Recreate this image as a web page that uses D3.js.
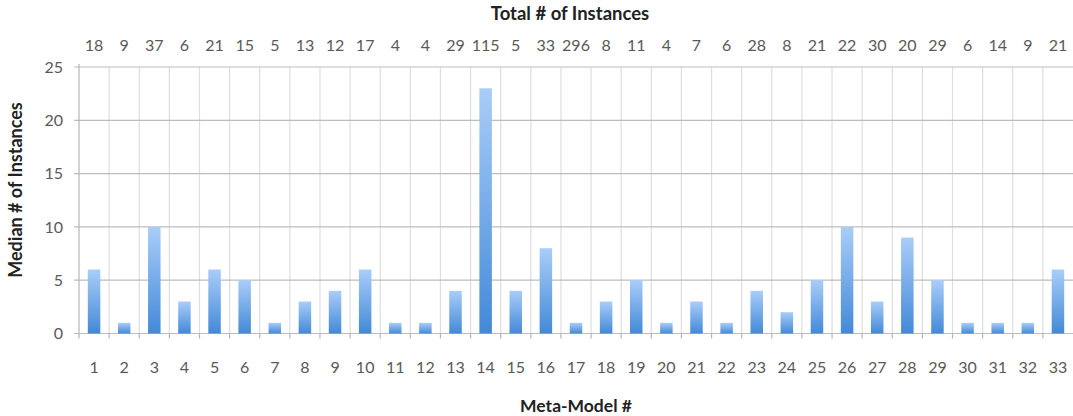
<!DOCTYPE html>
<html>
<head>
<meta charset="utf-8">
<script src="https://cdn.jsdelivr.net/npm/d3@7"></script>
<style>
  html, body { margin: 0; padding: 0; background: #fff; }
  svg { display: block; font-family: Lato, "Open Sans", sans-serif; }
</style>
</head>
<body>
<svg id="chart" width="1073" height="416"></svg>
<script>
// Meta-model ids along the bottom axis
const models = d3.range(1, 34).map(String);
// Median number of instances per meta-model
const medians = [6, 1, 10, 3, 6, 5, 1, 3, 4, 6, 1, 1, 4, 23, 4, 8, 1, 3, 5, 1,
                 3, 1, 4, 2, 5, 10, 3, 9, 5, 1, 1, 1, 6];
// Total number of instances per meta-model (shown along the top)
const totals = [18, 9, 37, 6, 21, 15, 5, 13, 12, 17, 4, 4, 29, 115, 5, 33, 296, 8, 11, 4,
                7, 6, 28, 8, 21, 22, 30, 20, 29, 6, 14, 9, 21];
const yTicks = [0, 5, 10, 15, 20, 25];

const svg = d3.select("#chart");
const plotLeft = 79, plotRight = 1073, plotTop = 67, plotBottom = 333.5;

const x = d3.scaleBand().domain(models).range([plotLeft, plotRight]).paddingInner(0).paddingOuter(0);
const y = d3.scaleLinear().domain([0, 25]).range([plotBottom, plotTop]);

// bar gradient: light at the top, deeper blue at the base
const defs = svg.append("defs");
const grad = defs.append("linearGradient").attr("id", "barFill")
  .attr("x1", 0).attr("y1", 0).attr("x2", 0).attr("y2", 1);
grad.append("stop").attr("offset", "0%").attr("stop-color", "#a9cdf9");
grad.append("stop").attr("offset", "100%").attr("stop-color", "#4389d8");

// vertical gridlines at category boundaries
svg.append("g").selectAll("line").data(models.slice(1)).join("line")
  .attr("x1", d => x(d)).attr("x2", d => x(d))
  .attr("y1", plotTop).attr("y2", plotBottom)
  .attr("stroke", "#dedede").attr("stroke-width", 1.2);

// horizontal gridlines
svg.append("g").selectAll("line").data(yTicks).join("line")
  .attr("x1", plotLeft - 5).attr("x2", plotRight)
  .attr("y1", d => y(d)).attr("y2", d => y(d))
  .attr("stroke", "#bdbdbd").attr("stroke-width", 1.2);

// left axis line
svg.append("line").attr("x1", plotLeft).attr("x2", plotLeft).attr("y1", plotTop - 3).attr("y2", plotBottom + 5)
  .attr("stroke", "#b5b5b5").attr("stroke-width", 1.2);

// bottom tick marks at boundaries
svg.append("g").selectAll("line").data(models.slice(1)).join("line")
  .attr("x1", d => x(d)).attr("x2", d => x(d))
  .attr("y1", plotBottom).attr("y2", plotBottom + 5)
  .attr("stroke", "#b5b5b5").attr("stroke-width", 1.2);

// bars
const bw = 12.5;
svg.append("g").selectAll("rect").data(medians).join("rect")
  .attr("x", (d, i) => x(models[i]) + x.bandwidth() / 2 - bw / 2)
  .attr("width", bw)
  .attr("y", d => y(d))
  .attr("height", d => y(0) - y(d))
  .attr("fill", "url(#barFill)");

// y tick labels
svg.append("g").selectAll("text").data(yTicks).join("text")
  .attr("x", 63).attr("y", d => y(d)).attr("dy", "0.35em")
  .attr("text-anchor", "end").attr("font-size", 16).attr("fill", "#595959")
  .text(d => d);

// bottom category labels
svg.append("g").selectAll("text").data(models).join("text")
  .attr("x", d => x(d) + x.bandwidth() / 2).attr("y", 367).attr("dy", "0.35em")
  .attr("text-anchor", "middle").attr("font-size", 16).attr("fill", "#595959")
  .text(d => d);

// top totals
svg.append("g").selectAll("text").data(totals).join("text")
  .attr("x", (d, i) => x(models[i]) + x.bandwidth() / 2).attr("y", 45).attr("dy", "0.35em")
  .attr("text-anchor", "middle").attr("font-size", 16).attr("fill", "#595959")
  .text(d => d);

// titles
svg.append("text").attr("x", 570).attr("y", 14).attr("dy", "0.35em")
  .attr("text-anchor", "middle").attr("font-size", 18.5).attr("font-weight", "bold").attr("fill", "#222")
  .text("Total # of Instances");

svg.append("text").attr("x", 576).attr("y", 406).attr("dy", "0.35em")
  .attr("text-anchor", "middle").attr("font-size", 17.5).attr("font-weight", "bold").attr("fill", "#222")
  .text("Meta-Model #");

svg.append("text").attr("transform", "translate(16,190) rotate(-90)").attr("dy", "0.35em")
  .attr("text-anchor", "middle").attr("font-size", 18).attr("font-weight", "bold").attr("fill", "#222")
  .text("Median # of Instances");
</script>
</body>
</html>
